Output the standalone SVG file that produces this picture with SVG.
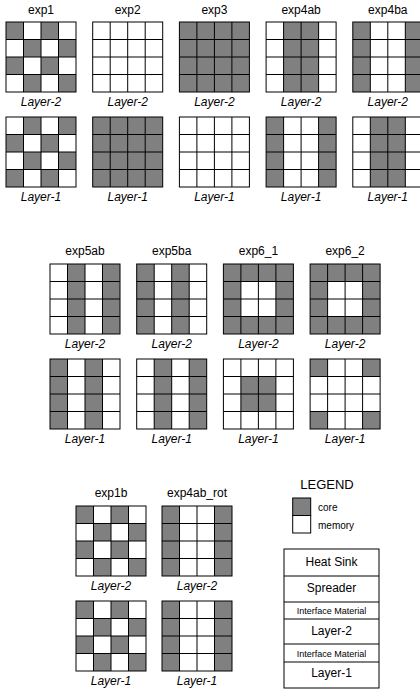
<svg xmlns="http://www.w3.org/2000/svg" xmlns:xlink="http://www.w3.org/1999/xlink" width="420" height="692" viewBox="0 0 420 692">
<style>
text{font-family:"Liberation Sans",Arial,sans-serif;fill:#000}
.t{font-size:12px;text-anchor:middle}
.l{font-size:12px;font-style:italic;text-anchor:middle}
.g{fill:#808080}
.ln{fill:none;stroke:#000;stroke-width:1}
.bg{fill:#fff}
.s{font-size:12px;text-anchor:middle}
.sm{font-size:9px;text-anchor:middle}
.lg{font-size:10px}
</style>
<defs>
<g id="grid"><rect class="ln" x="0" y="0" width="70" height="70"/><path class="ln" d="M17.5 0V70M35 0V70M52.5 0V70M0 17.5H70M0 35H70M0 52.5H70"/></g>
<g id="white"><rect class="bg" width="70" height="70"/></g>
<g id="all"><rect class="g" width="70" height="70"/></g>
<g id="chkA"><rect class="bg" width="70" height="70"/><path class="g" d="M0 0h17.5v17.5h-17.5zM35 0h17.5v17.5h-17.5zM17.5 17.5h17.5v17.5h-17.5zM52.5 17.5h17.5v17.5h-17.5zM0 35h17.5v17.5h-17.5zM35 35h17.5v17.5h-17.5zM17.5 52.5h17.5v17.5h-17.5zM52.5 52.5h17.5v17.5h-17.5z"/></g>
<g id="chkB"><rect class="bg" width="70" height="70"/><path class="g" d="M17.5 0h17.5v17.5h-17.5zM52.5 0h17.5v17.5h-17.5zM0 17.5h17.5v17.5h-17.5zM35 17.5h17.5v17.5h-17.5zM17.5 35h17.5v17.5h-17.5zM52.5 35h17.5v17.5h-17.5zM0 52.5h17.5v17.5h-17.5zM35 52.5h17.5v17.5h-17.5z"/></g>
<g id="c03"><rect class="bg" width="70" height="70"/><rect class="g" x="0" width="17.5" height="70"/><rect class="g" x="52.5" width="17.5" height="70"/></g>
<g id="c12"><rect class="bg" width="70" height="70"/><rect class="g" x="17.5" width="35" height="70"/></g>
<g id="c02"><rect class="bg" width="70" height="70"/><rect class="g" x="0" width="17.5" height="70"/><rect class="g" x="35" width="17.5" height="70"/></g>
<g id="c13"><rect class="bg" width="70" height="70"/><rect class="g" x="17.5" width="17.5" height="70"/><rect class="g" x="52.5" width="17.5" height="70"/></g>
<g id="ring"><rect class="g" width="70" height="70"/><rect class="bg" x="17.5" y="17.5" width="35" height="35"/></g>
<g id="center"><rect class="bg" width="70" height="70"/><rect class="g" x="17.5" y="17.5" width="35" height="35"/></g>
<g id="corners"><rect class="bg" width="70" height="70"/><path class="g" d="M0 0h17.5v17.5h-17.5zM52.5 0h17.5v17.5h-17.5zM0 52.5h17.5v17.5h-17.5zM52.5 52.5h17.5v17.5h-17.5z"/></g>
</defs>

<g id="exp1">
<text class="t" x="41" y="14">exp1</text>
<use xlink:href="#chkA" x="6" y="22"/><use xlink:href="#grid" x="6" y="22"/>
<text class="l" x="41" y="105.5">Layer-2</text>
<use xlink:href="#chkB" x="6" y="117"/><use xlink:href="#grid" x="6" y="117"/>
<text class="l" x="41" y="201">Layer-1</text>
</g>
<g id="exp2">
<text class="t" x="127.7" y="14">exp2</text>
<use xlink:href="#white" x="92.7" y="22"/><use xlink:href="#grid" x="92.7" y="22"/>
<text class="l" x="127.7" y="105.5">Layer-2</text>
<use xlink:href="#all" x="92.7" y="117"/><use xlink:href="#grid" x="92.7" y="117"/>
<text class="l" x="127.7" y="201">Layer-1</text>
</g>
<g id="exp3">
<text class="t" x="214.4" y="14">exp3</text>
<use xlink:href="#all" x="179.4" y="22"/><use xlink:href="#grid" x="179.4" y="22"/>
<text class="l" x="214.4" y="105.5">Layer-2</text>
<use xlink:href="#white" x="179.4" y="117"/><use xlink:href="#grid" x="179.4" y="117"/>
<text class="l" x="214.4" y="201">Layer-1</text>
</g>
<g id="exp4ab">
<text class="t" x="301.1" y="14">exp4ab</text>
<use xlink:href="#c12" x="266.1" y="22"/><use xlink:href="#grid" x="266.1" y="22"/>
<text class="l" x="301.1" y="105.5">Layer-2</text>
<use xlink:href="#c03" x="266.1" y="117"/><use xlink:href="#grid" x="266.1" y="117"/>
<text class="l" x="301.1" y="201">Layer-1</text>
</g>
<g id="exp4ba">
<text class="t" x="387.8" y="14">exp4ba</text>
<use xlink:href="#c03" x="352.8" y="22"/><use xlink:href="#grid" x="352.8" y="22"/>
<text class="l" x="387.8" y="105.5">Layer-2</text>
<use xlink:href="#c12" x="352.8" y="117"/><use xlink:href="#grid" x="352.8" y="117"/>
<text class="l" x="387.8" y="201">Layer-1</text>
</g>

<g id="exp5ab">
<text class="t" x="85" y="254.5">exp5ab</text>
<use xlink:href="#c13" x="50" y="264"/><use xlink:href="#grid" x="50" y="264"/>
<text class="l" x="85" y="347.5">Layer-2</text>
<use xlink:href="#c02" x="50" y="359"/><use xlink:href="#grid" x="50" y="359"/>
<text class="l" x="85" y="442.5">Layer-1</text>
</g>
<g id="exp5ba">
<text class="t" x="171.7" y="254.5">exp5ba</text>
<use xlink:href="#c02" x="136.7" y="264"/><use xlink:href="#grid" x="136.7" y="264"/>
<text class="l" x="171.7" y="347.5">Layer-2</text>
<use xlink:href="#c13" x="136.7" y="359"/><use xlink:href="#grid" x="136.7" y="359"/>
<text class="l" x="171.7" y="442.5">Layer-1</text>
</g>
<g id="exp6_1">
<text class="t" x="258.4" y="254.5">exp6_1</text>
<use xlink:href="#ring" x="223.4" y="264"/><use xlink:href="#grid" x="223.4" y="264"/>
<text class="l" x="258.4" y="347.5">Layer-2</text>
<use xlink:href="#center" x="223.4" y="359"/><use xlink:href="#grid" x="223.4" y="359"/>
<text class="l" x="258.4" y="442.5">Layer-1</text>
</g>
<g id="exp6_2">
<text class="t" x="345.1" y="254.5">exp6_2</text>
<use xlink:href="#ring" x="310.1" y="264"/><use xlink:href="#grid" x="310.1" y="264"/>
<text class="l" x="345.1" y="347.5">Layer-2</text>
<use xlink:href="#corners" x="310.1" y="359"/><use xlink:href="#grid" x="310.1" y="359"/>
<text class="l" x="345.1" y="442.5">Layer-1</text>
</g>

<g id="exp1b">
<text class="t" x="111" y="497">exp1b</text>
<use xlink:href="#chkA" x="76" y="506"/><use xlink:href="#grid" x="76" y="506"/>
<text class="l" x="111" y="589.5">Layer-2</text>
<use xlink:href="#chkA" x="76" y="601"/><use xlink:href="#grid" x="76" y="601"/>
<text class="l" x="111" y="684.5">Layer-1</text>
</g>
<g id="exp4ab_rot">
<text class="t" x="197" y="497">exp4ab_rot</text>
<use xlink:href="#c03" x="162" y="506"/><use xlink:href="#grid" x="162" y="506"/>
<text class="l" x="197" y="589.5">Layer-2</text>
<use xlink:href="#c03" x="162" y="601"/><use xlink:href="#grid" x="162" y="601"/>
<text class="l" x="197" y="684.5">Layer-1</text>
</g>

<g id="legend">
<text x="327" y="488.5" style="font-size:13px;text-anchor:middle">LEGEND</text>
<rect class="g" x="292.7" y="498" width="18" height="17.5" stroke="#000"/>
<rect class="bg" x="292.7" y="515.5" width="18" height="17.5" stroke="#000"/>
<text class="lg" x="318" y="511">core</text>
<text class="lg" x="318" y="528.5">memory</text>
</g>

<g id="stack">
<rect class="bg" x="284" y="549" width="95" height="139" stroke="#000"/>
<path class="ln" d="M284 576H379M284 602H379M284 619H379M284 644H379M284 662H379"/>
<text class="s" x="331.5" y="566">Heat Sink</text>
<text class="s" x="331.5" y="592">Spreader</text>
<text class="sm" x="331.5" y="614">Interface Material</text>
<text class="s" x="331.5" y="635">Layer-2</text>
<text class="sm" x="331.5" y="657">Interface Material</text>
<text class="s" x="331.5" y="677">Layer-1</text>
</g>
<g id="connectors"/>
</svg>
